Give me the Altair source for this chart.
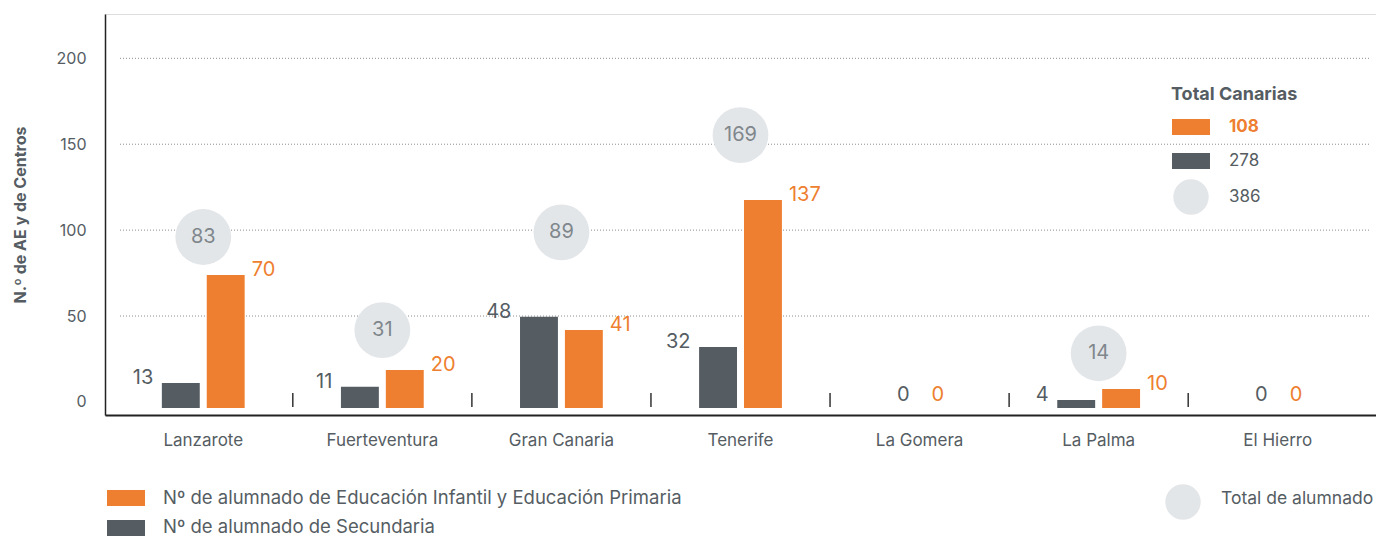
import altair as alt
import pandas as pd

# ---------------- data ----------------
islands = ["Lanzarote", "Fuerteventura", "Gran Canaria", "Tenerife",
           "La Gomera", "La Palma", "El Hierro"]
groups = ["Secundaria", "Infantil y Primaria"]
# printed labels
sec_labels = [13, 11, 48, 32, 0, 4, 0]
inf_labels = [70, 20, 41, 137, 0, 10, 0]
# bar heights as drawn in the picture
sec_bars = [11.0, 8.8, 49.6, 32.0, 0, 1.1, 0]
inf_bars = [73.9, 18.6, 41.9, 117.5, 0, 7.5, 0]
# totals (bubbles) and the height at which each bubble sits
totals = [83, 31, 89, 169, None, 14, None]
total_pos = [96.0, 41.8, 98.7, 155.3, None, 28.3, None]

y_ticks = [0, 50, 100, 150, 200]
grid_values = [50, 100, 150, 200]

y_title = "N.º de AE y de Centros"
legend_labels = ["Nº de alumnado de Educación Infantil y Educación Primaria",
                 "Nº de alumnado de Secundaria"]
circle_legend_label = "Total de alumnado"
summary_title = "Total Canarias"
summary_values = [108, 278, 386]

# ---------------- tables ----------------
rows = []
for i, isl in enumerate(islands):
    rows.append({"island": isl, "group": groups[0], "bar": sec_bars[i], "label": sec_labels[i]})
    rows.append({"island": isl, "group": groups[1], "bar": inf_bars[i], "label": inf_labels[i]})
bars_df = pd.DataFrame(rows)

tot_df = pd.DataFrame({"island": islands, "total": totals, "pos": total_pos}).dropna()
tot_df["total"] = tot_df["total"].astype(int)
grid_df = pd.DataFrame({"v": grid_values})
sep_df = pd.DataFrame({"island": islands[:-1]})
one = pd.DataFrame({"a": [0]})

# ---------------- styles ----------------
FONT = "Inter"
TXT = "#555d63"
DARK = "#555c62"
ORANGE = "#ee7f30"
BUBBLE = "#e3e6e9"
BUBBLE_TXT = "#80878c"

W = 1271
P_IN, P_OUT = 0.5376, 0.3175
STEP = W / (7 - P_IN + 2 * P_OUT)

x_axis = alt.Axis(labelAngle=0, ticks=False, grid=False, domainColor="#222222",
                  domainWidth=2, labelFont=FONT, labelFontSize=17, labelColor=TXT,
                  labelPadding=17)
x_scale = alt.Scale(domain=islands, paddingInner=P_IN, paddingOuter=P_OUT)
y_axis = alt.Axis(values=y_ticks, grid=False, ticks=False, domainColor="#222222",
                  domainWidth=1.5, labelFont=FONT, labelFontSize=16, labelColor=TXT,
                  labelPadding=19, titleFont=FONT, titleFontSize=16,
                  titleFontWeight="bold", titleColor=TXT, titlePadding=28)
y_scale = alt.Scale(domain=[-7.6, 225.8], nice=False, zero=False)


def X():
    return alt.X("island:N", sort=islands, scale=x_scale, axis=x_axis, title=None)


def Y(field):
    return alt.Y(f"{field}:Q", scale=y_scale, axis=y_axis, title=y_title)


xoff = alt.XOffset("group:N", sort=groups,
                   scale=alt.Scale(domain=groups, paddingInner=0.1556, paddingOuter=0))
color = alt.Color("group:N", scale=alt.Scale(domain=groups, range=[DARK, ORANGE]), legend=None)

grid = alt.Chart(grid_df).mark_rule(strokeDash=[1, 2], color="#8c8c8c", strokeWidth=1).encode(
    y=Y("v"), x=alt.value(15), x2=alt.value(1266))

seps = alt.Chart(sep_df).mark_rule(xOffset=STEP / 2, color="#333333", strokeWidth=1.5).encode(
    x=X(), y=alt.value(379), y2=alt.value(393))

bars = alt.Chart(bars_df).transform_filter("datum.bar > 0").mark_bar().encode(
    x=X(), xOffset=xoff, y=Y("bar"), y2=alt.datum(-3.5), color=color)

bubbles = alt.Chart(tot_df).mark_circle(size=3117, color=BUBBLE, opacity=1).encode(
    x=X(), y=Y("pos"))
bubble_txt = alt.Chart(tot_df).mark_text(font=FONT, fontSize=20, color=BUBBLE_TXT,
                                         baseline="middle").encode(
    x=X(), y=Y("pos"), text="total:Q")

LBL = 20
sec_txt = alt.Chart(bars_df).transform_filter(
    f"datum.group == '{groups[0]}' && datum.label > 0").mark_text(
    font=FONT, fontSize=LBL, color=TXT, align="right", baseline="alphabetic", dx=-27.5, dy=1).encode(
    x=X(), xOffset=xoff, y=Y("bar"), text="label:Q")
inf_txt = alt.Chart(bars_df).transform_filter(
    f"datum.group == '{groups[1]}' && datum.label > 0").mark_text(
    font=FONT, fontSize=LBL, color=ORANGE, align="left", baseline="alphabetic", dx=26, dy=1).encode(
    x=X(), xOffset=xoff, y=Y("bar"), text="label:Q")
sec_zero = alt.Chart(bars_df).transform_filter(
    f"datum.group == '{groups[0]}' && datum.label == 0").mark_text(
    font=FONT, fontSize=LBL, color=TXT, align="right", baseline="alphabetic", dx=-10, dy=-1).encode(
    x=X(), y=Y("bar"), text="label:Q")
inf_zero = alt.Chart(bars_df).transform_filter(
    f"datum.group == '{groups[1]}' && datum.label == 0").mark_text(
    font=FONT, fontSize=LBL, color=ORANGE, align="left", baseline="alphabetic", dx=12, dy=-1).encode(
    x=X(), y=Y("bar"), text="label:Q")


def px_text(txt, x, y, color=TXT, weight="normal", size=18, baseline="middle"):
    return alt.Chart(one).mark_text(text=txt, font=FONT, fontSize=size, color=color,
                                    fontWeight=weight, align="left", baseline=baseline).encode(
        x=alt.value(x), y=alt.value(y))


def px_rect(x, x2, y, y2, c):
    return alt.Chart(one).mark_rect(color=c).encode(
        x=alt.value(x), x2=alt.value(x2), y=alt.value(y), y2=alt.value(y2))


def px_circle(x, y, size):
    return alt.Chart(one).mark_circle(size=size, color=BUBBLE, opacity=1).encode(
        x=alt.value(x), y=alt.value(y))


summary = [
    px_text(summary_title, 1066, 86, weight="bold", size=18, baseline="alphabetic"),
    px_rect(1067, 1105, 105, 121, ORANGE),
    px_text(str(summary_values[0]), 1124, 113, color=ORANGE, weight="bold", size=17),
    px_rect(1067, 1105, 139, 155, DARK),
    px_text(str(summary_values[1]), 1124, 147, size=17),
    px_circle(1086, 183, 1257),
    px_text(str(summary_values[2]), 1124, 183, size=17),
]
bottom_legend = [
    px_rect(2, 40, 476, 492, ORANGE),
    px_text(legend_labels[0], 58, 484, size=18.5),
    px_rect(2, 40, 506, 522, DARK),
    px_text(legend_labels[1], 58, 513, size=18.5),
    px_circle(1078, 488, 1257),
    px_text(circle_legend_label, 1116, 485, size=17.5),
]

chart = alt.layer(
    grid, seps, bars, bubbles, bubble_txt, sec_txt, inf_txt, sec_zero, inf_zero,
    *summary, *bottom_legend
).properties(
    width=W, height=401,
    autosize=alt.AutoSizeParams(type="none"),
    padding={"left": 97, "top": 6, "right": 0, "bottom": 124},
).configure_view(stroke=None).configure(background="white")

chart.save("out.html", embed_options={"renderer": "svg", "actions": False})
